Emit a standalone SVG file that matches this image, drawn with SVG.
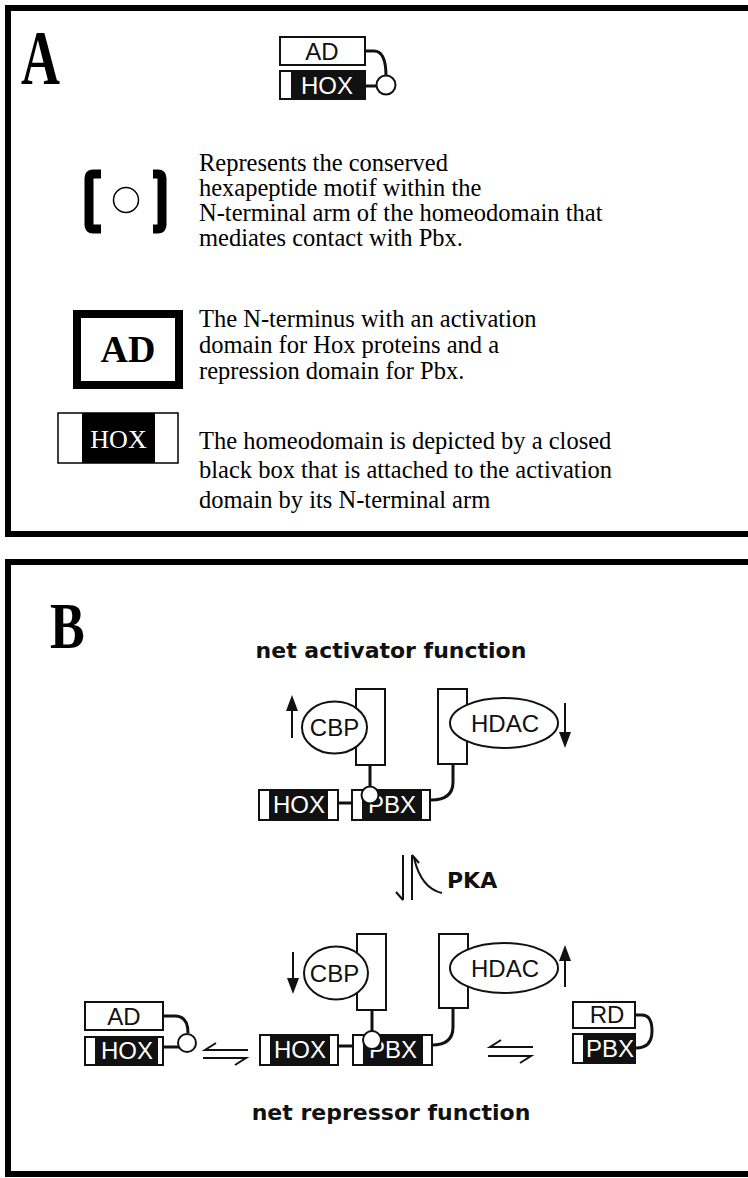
<svg xmlns="http://www.w3.org/2000/svg" width="748" height="1178" viewBox="0 0 748 1178">
<style>
.frame{fill:none;stroke:#000;stroke-width:6}
.serif{font-family:"Liberation Serif","Times New Roman",serif;fill:#000}
.serifw{font-family:"Liberation Serif","Times New Roman",serif;fill:#fff}
.desc{font-size:24.5px}
.big{font-weight:bold;font-size:54px}
.lbl{font-family:"DejaVu Sans",Verdana,sans-serif;font-weight:bold;font-size:22px;fill:#111}
.box{fill:#fff;stroke:#111;stroke-width:2}
.blk{fill:#111}
.st{font-family:"Liberation Sans",Arial,sans-serif;font-size:24px;text-anchor:middle}
.w{fill:#fff}
.k{fill:#111}
.lnk{fill:none;stroke:#111;stroke-width:3}
.ln{fill:none;stroke:#111;stroke-width:2}
.arr{fill:#111}
</style>
<rect width="748" height="1178" fill="#fff"/>
<g id="panelA">
  <rect class="frame" x="8" y="8" width="760" height="526"/>
  <text class="serif big" transform="translate(21,84) scale(1,1.45)">A</text>
</g>
<g id="iconA">
  <rect class="box" x="280" y="37" width="85" height="28"/>
  <text class="st k" x="322" y="60" font-size="26">AD</text>
  <rect class="box" x="280" y="71" width="85" height="28"/>
  <rect class="blk" x="291" y="71" width="74" height="28"/>
  <text class="st w" x="327" y="94" font-size="26">HOX</text>
  <path class="lnk" d="M365 51 H374 Q386 51 386 76"/>
  <line class="lnk" x1="365" y1="86" x2="377" y2="86"/>
  <circle cx="386" cy="85" r="9.5" fill="#fff" stroke="#111" stroke-width="2"/>
</g>
<g id="legend-hexapeptide">
  <path d="M101 174 H93 Q89 174 89 178 V225 Q89 229 93 229 H101" fill="none" stroke="#000" stroke-width="9"/>
  <circle cx="126" cy="200" r="12.5" fill="none" stroke="#000" stroke-width="1.5"/>
  <path d="M153 174 H158 Q162 174 162 178 V225 Q162 229 158 229 H153" fill="none" stroke="#000" stroke-width="9"/>
  <text class="serif desc" x="199" y="171">Represents the conserved</text>
  <text class="serif desc" x="199" y="196">hexapeptide motif  within the</text>
  <text class="serif desc" x="199" y="221">N-terminal arm of the homeodomain that</text>
  <text class="serif desc" x="199" y="246">mediates contact with Pbx.</text>
</g>
<g id="legend-AD">
  <rect x="77" y="314" width="102" height="71" fill="#fff" stroke="#000" stroke-width="8"/>
  <text class="serif" x="128" y="362" font-size="38" font-weight="bold" text-anchor="middle">AD</text>
  <text class="serif desc" x="199" y="327">The N-terminus with an activation</text>
  <text class="serif desc" x="199" y="353">domain for Hox proteins and a</text>
  <text class="serif desc" x="199" y="379">repression domain for Pbx.</text>
</g>
<g id="legend-HOX">
  <rect x="58" y="413" width="120" height="50" fill="#fff" stroke="#000" stroke-width="1.5"/>
  <rect x="82" y="413" width="73" height="50" fill="#000"/>
  <text class="serifw" x="118.5" y="448" font-size="26" text-anchor="middle">HOX</text>
  <text class="serif desc" x="199" y="449">The homeodomain is depicted by a closed</text>
  <text class="serif desc" x="199" y="478">black box that is attached to the activation</text>
  <text class="serif desc" x="199" y="508">domain by its N-terminal arm</text>
</g>
<g id="panelB">
  <rect class="frame" x="8" y="562" width="760" height="612"/>
  <text class="serif" font-weight="bold" font-size="52" transform="translate(50,648) scale(1,1.24)">B</text>
  <text class="lbl" x="391" y="658" text-anchor="middle">net activator function</text>
  <text class="lbl" x="391" y="1120" text-anchor="middle" font-size="21.5">net repressor function</text>
</g>
<g id="activator-complex">
  <rect class="box" x="356" y="689" width="29" height="76"/>
  <rect class="box" x="438" y="689" width="29" height="75"/>
  <ellipse class="box" cx="334.5" cy="727.5" rx="32.5" ry="26"/>
  <text class="st k" x="334.5" y="736">CBP</text>
  <ellipse class="box" cx="504" cy="723" rx="54" ry="25"/>
  <text class="st k" x="505" y="732">HDAC</text>
  <line class="ln" x1="292" y1="738" x2="292" y2="708"/>
  <polygon class="arr" points="286,711 292,695 298,711"/>
  <line class="ln" x1="565" y1="703" x2="565" y2="734"/>
  <polygon class="arr" points="559,732 565,748 571,732"/>
  <rect class="box" x="259" y="790" width="79" height="30"/>
  <rect class="blk" x="269" y="790" width="59" height="30"/>
  <text class="st w" x="299" y="813">HOX</text>
  <rect class="box" x="352" y="790" width="78" height="30"/>
  <rect class="blk" x="362" y="790" width="60" height="30"/>
  <text class="st w" x="392" y="813">PBX</text>
  <line class="lnk" x1="338" y1="803" x2="352" y2="803"/>
  <line class="lnk" x1="370" y1="765" x2="370" y2="788"/>
  <circle cx="370" cy="795" r="8.5" fill="#fff" stroke="#111" stroke-width="2"/>
  <path class="lnk" d="M453 764 V782 Q453 800 431 800" stroke-width="3.5"/>
</g>
<g id="pka">
  <line class="ln" x1="403" y1="855" x2="403" y2="900"/>
  <line class="ln" x1="403" y1="900" x2="396" y2="892"/>
  <line class="ln" x1="412" y1="900" x2="412" y2="855"/>
  <line class="ln" x1="412" y1="855" x2="419" y2="863"/>
  <path class="ln" d="M414 858 C419 879 428 890 442 893"/>
  <text class="lbl" x="447" y="888" font-size="16.5">PKA</text>
</g>
<g id="repressor-complex">
  <rect class="box" x="357" y="934" width="29" height="76"/>
  <rect class="box" x="439" y="934" width="29" height="74"/>
  <ellipse class="box" cx="336" cy="973" rx="32" ry="26.5"/>
  <text class="st k" x="334.5" y="982">CBP</text>
  <ellipse class="box" cx="504" cy="968" rx="54" ry="25"/>
  <text class="st k" x="505" y="977">HDAC</text>
  <line class="ln" x1="293" y1="952" x2="293" y2="980"/>
  <polygon class="arr" points="287,978 293,994 299,978"/>
  <line class="ln" x1="565" y1="987" x2="565" y2="958"/>
  <polygon class="arr" points="559,961 565,945 571,961"/>
  <rect class="box" x="260" y="1035" width="78" height="30"/>
  <rect class="blk" x="270" y="1035" width="60" height="30"/>
  <text class="st w" x="300" y="1058">HOX</text>
  <rect class="box" x="353" y="1035" width="79" height="30"/>
  <rect class="blk" x="363" y="1035" width="60" height="30"/>
  <text class="st w" x="393" y="1058">PBX</text>
  <line class="lnk" x1="338" y1="1046" x2="353" y2="1046"/>
  <line class="lnk" x1="372" y1="1010" x2="372" y2="1032"/>
  <circle cx="372" cy="1040" r="9" fill="#fff" stroke="#111" stroke-width="2"/>
  <path class="lnk" d="M453 1008 V1027 Q453 1045 432 1045" stroke-width="3.5"/>
</g>
<g id="free-hox">
  <rect class="box" x="85" y="1002" width="78" height="28"/>
  <text class="st k" x="124" y="1025">AD</text>
  <rect class="box" x="85" y="1037" width="78" height="28"/>
  <rect class="blk" x="95" y="1037" width="63" height="28"/>
  <text class="st w" x="127" y="1059">HOX</text>
  <path class="lnk" d="M163 1016 H175 Q188 1016 188 1033"/>
  <line class="lnk" x1="163" y1="1047" x2="179" y2="1047"/>
  <circle cx="187" cy="1043" r="9" fill="#fff" stroke="#111" stroke-width="2"/>
</g>
<g id="free-pbx">
  <rect class="box" x="573" y="1002" width="62" height="26"/>
  <text class="st k" x="607" y="1023">RD</text>
  <rect class="box" x="573" y="1034" width="62" height="29"/>
  <rect class="blk" x="583" y="1034" width="52" height="29"/>
  <text class="st w" x="610" y="1057">PBX</text>
  <path class="lnk" d="M635 1015 H642 Q652 1015 652 1031 Q652 1048 636 1048"/>
</g>
<g id="connectors">
  <path class="ln" d="M248 1050 H205 L216 1043"/>
  <path class="ln" d="M203 1058 H246 L235 1065"/>
  <path class="ln" d="M533 1047 H490 L501 1040"/>
  <path class="ln" d="M488 1056 H531 L520 1063"/>
</g>
</svg>
